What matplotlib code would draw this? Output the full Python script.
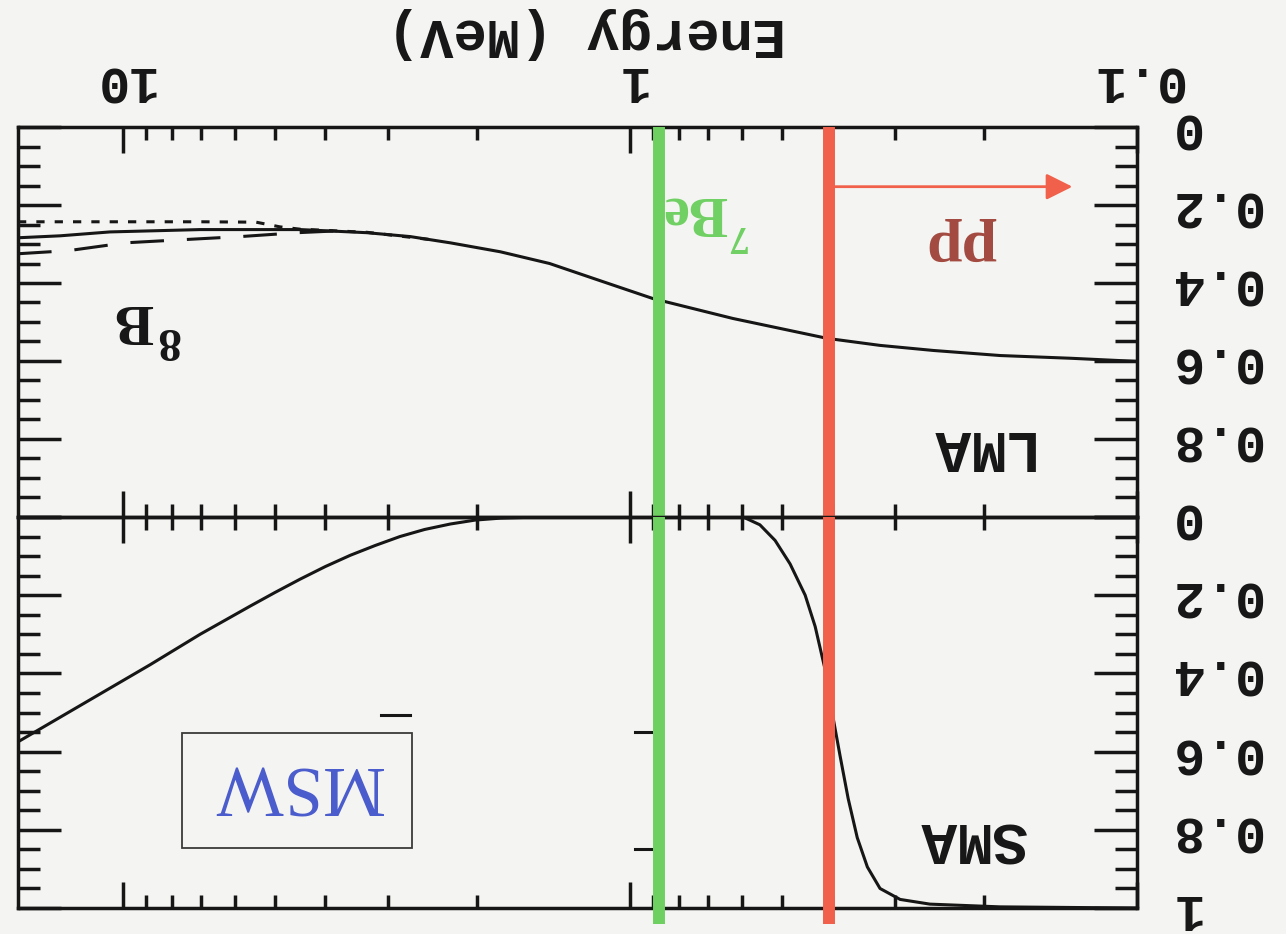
import numpy as np
import matplotlib.pyplot as plt
from matplotlib.ticker import FixedLocator, LogLocator, MultipleLocator, FuncFormatter, NullFormatter
from matplotlib.patches import Rectangle

# LMA survival probability vs neutrino energy (MeV)
lma_e = [16.1, 13.3, 10.6, 7.04, 4.47, 3.30, 2.71, 2.26, 1.80, 1.44, 1.145, 0.90, 0.626, 0.408,
         0.321, 0.252, 0.186, 0.135, 0.1]
lma_p = [0.284, 0.279, 0.269, 0.263, 0.263, 0.271, 0.281, 0.297, 0.320, 0.350, 0.394, 0.440, 0.491, 0.542,
         0.560, 0.573, 0.586, 0.593, 0.601]

lma_dash_e = [16.1, 12.8, 9.9, 7.64, 5.87, 4.53, 3.73]
lma_dash_p = [0.325, 0.317, 0.297, 0.289, 0.281, 0.271, 0.266]

lma_dot_e = [16.1, 10.0, 7.0, 5.46, 4.9, 4.47, 3.3, 2.46]
lma_dot_p = [0.243, 0.243, 0.243, 0.244, 0.256, 0.262, 0.270, 0.289]

# SMA survival probability
sma_e = [16.1, 11.45, 8.84, 7.04, 5.61, 5.01, 4.47, 3.99, 3.56, 3.18, 2.84, 2.54, 2.26, 2.02, 1.80, 1.50,
         1.0, 0.65, 0.598, 0.554, 0.517, 0.483, 0.451, 0.431, 0.412, 0.399, 0.385, 0.371, 0.356,
         0.340, 0.321, 0.293, 0.256, 0.186, 0.1]
sma_p = [0.575, 0.463, 0.378, 0.30, 0.228, 0.193, 0.159, 0.127, 0.098, 0.073, 0.05, 0.032, 0.018, 0.008, 0.003, 0.0,
         0.0, 0.0, 0.0, 0.02, 0.06, 0.12, 0.20, 0.28, 0.39, 0.50, 0.61, 0.72, 0.82,
         0.895, 0.95, 0.978, 0.99, 0.997, 1.0]

be7_e = 0.876     # 7Be line
pp_e = 0.405      # pp endpoint
pp_arrow_end = 0.134

x_ticks = [0.1, 1, 10]

ink = '#161616'
green = '#6fd062'
red = '#f0604a'
bg = '#f4f4f2'

plt.rcParams['font.family'] = ['Liberation Mono', 'DejaVu Sans']
plt.rcParams['font.weight'] = 'bold'

fig = plt.figure(figsize=(12.86, 9.34), dpi=100)
fig.patch.set_facecolor(bg)

ax_lma = fig.add_axes([0.014, 0.4465, 0.870, 0.4175])
ax_sma = fig.add_axes([0.014, 0.0278, 0.870, 0.4187])


def yfmt(v, _, top=False):
    if abs(v) < 1e-9:
        return '0'
    if abs(v - 1) < 1e-9:
        return '' if top else '1'
    return f'{v:.1f}'


for ax in (ax_lma, ax_sma):
    ax.set_xscale('log')
    ax.set_xlim(16.1, 0.1)
    ax.set_ylim(1, 0)
    ax.set_facecolor('none')
    for s in ax.spines.values():
        s.set_linewidth(2.5)
        s.set_color(ink)
    ax.xaxis.set_major_locator(FixedLocator(x_ticks))
    ax.xaxis.set_minor_locator(LogLocator(base=10, subs=np.arange(2, 10)))
    ax.xaxis.set_minor_formatter(NullFormatter())
    ax.yaxis.set_major_locator(MultipleLocator(0.2))
    ax.yaxis.set_minor_locator(MultipleLocator(0.05))
    ax.tick_params(axis='x', which='both', direction='in', top=True, bottom=True,
                   width=2.5, color=ink, labelbottom=False, labeltop=False)
    ax.tick_params(axis='x', which='major', length=19)
    ax.tick_params(axis='x', which='minor', length=9.5)
    ax.tick_params(axis='y', which='both', direction='in', left=True, right=True,
                   labelleft=False, labelright=True, width=2.5, color=ink)
    ax.tick_params(axis='y', which='major', length=31, pad=23, labelrotation=180,
                   labelsize=37, labelcolor=ink)
    ax.tick_params(axis='y', which='minor', length=16)

ax_lma.yaxis.set_major_formatter(FuncFormatter(lambda v, p: yfmt(v, p, top=True)))
ax_sma.yaxis.set_major_formatter(FuncFormatter(yfmt))

ax_lma.xaxis.set_major_formatter(FuncFormatter(lambda v, _: f'{v:g}'))
ax_lma.tick_params(axis='x', which='major', labeltop=True, labelrotation=180,
                   labelsize=37, pad=16, labelcolor=ink)

for ax in (ax_lma, ax_sma):
    for t in ax.yaxis.get_major_ticks():
        t.label2.set_va('center')

# curves
ax_lma.plot(lma_e, lma_p, color=ink, lw=2.2)
ax_lma.plot(lma_dash_e, lma_dash_p, color=ink, lw=2.2, dashes=(11, 7.5))
ax_lma.plot(lma_dot_e, lma_dot_p, color=ink, lw=2.2, dashes=(2.7, 3.3))
ax_sma.plot(sma_e, sma_p, color=ink, lw=2.2)

# stray short marks on the lower panel
ax_sma.plot([0.975, 0.91], [0.55, 0.55], color=ink, lw=2.2)
ax_sma.plot([0.975, 0.91], [0.85, 0.85], color=ink, lw=2.2)
ax_sma.plot([3.1, 2.71], [0.506, 0.506], color=ink, lw=2.2)

# source lines
for ax, lo in ((ax_lma, 0), (ax_sma, -0.042)):
    ax.axvline(be7_e, ymin=lo, ymax=1, color=green, lw=8.6, zorder=10,
               clip_on=False, solid_capstyle='butt')
    ax.axvline(pp_e, ymin=lo, ymax=1, color=red, lw=8.6, zorder=10,
               clip_on=False, solid_capstyle='butt')

ax_lma.annotate('', xy=(pp_arrow_end, 0.153), xytext=(pp_e, 0.153),
                arrowprops=dict(arrowstyle='-|>,head_length=0.4,head_width=0.2',
                                color=red, lw=2, mutation_scale=40,
                                shrinkA=0, shrinkB=0))

# labels (upside down)
fig.text(0.4557, 0.9650, 'Energy (MeV)', rotation=180, ha='center', va='center',
         fontsize=40, color=ink)
fig.text(0.7590, 0.5215, 'LMA', rotation=180, ha='center', va='center',
         fontsize=43, color=ink)
fig.text(0.7560, 0.1030, 'SMA', rotation=180, ha='center', va='center',
         fontsize=43, color=ink)

serif = ['Liberation Serif', 'DejaVu Serif']
fig.text(0.1042, 0.6585, 'B', rotation=180, ha='center', va='center',
         fontsize=42, family=serif, weight='bold', color=ink)
fig.text(0.1299, 0.6371, '8', rotation=180, ha='center', va='center',
         fontsize=34, family=serif, weight='bold', color=ink)

fig.text(0.5404, 0.7740, 'Be', rotation=180, ha='center', va='center',
         fontsize=42, family=serif, weight='bold', color=green)
fig.text(0.5720, 0.7480, '7', rotation=180, ha='center', va='center',
         fontsize=29, family=serif, weight='bold', color=green)

fig.text(0.7473, 0.7366, 'pp', rotation=180, ha='center', va='center',
         fontsize=46, family=serif, weight='bold', color='#a34a40')

fig.text(0.2310, 0.1606, 'MSW', rotation=180, ha='center', va='center',
         fontsize=51, family=serif, weight='normal', color='#4a5ccc')
fig.add_artist(Rectangle((0.1415, 0.0921), 0.1788, 0.1231, transform=fig.transFigure,
                         fill=False, edgecolor='#3a3a3a', lw=1.3))

fig.savefig('out.png', dpi=100, facecolor=bg)
